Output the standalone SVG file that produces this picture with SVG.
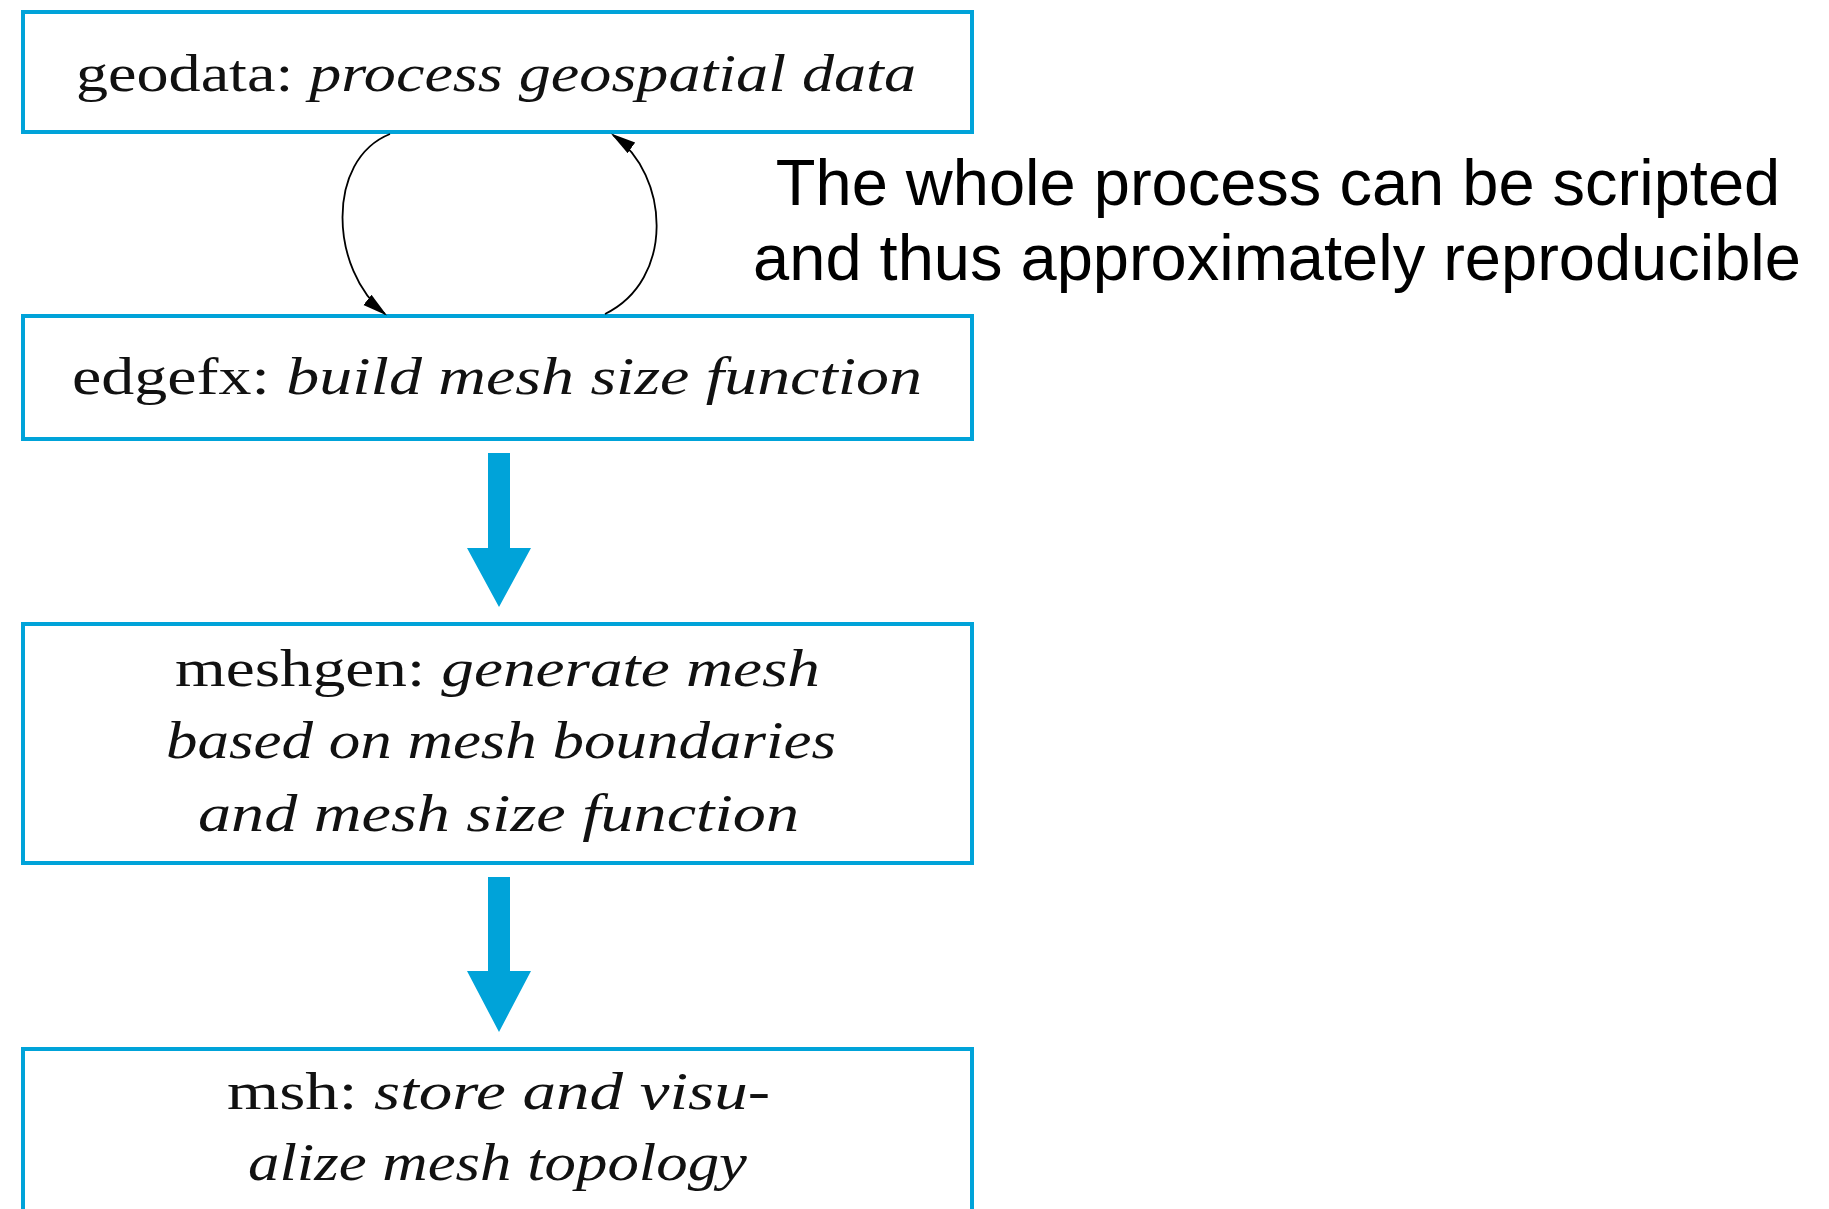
<svg xmlns="http://www.w3.org/2000/svg" width="1829" height="1209" viewBox="0 0 1829 1209">
<style>
.box{fill:#fff;stroke:#00a3d9;stroke-width:4}
.t{font-family:"Liberation Serif","DejaVu Serif",serif;font-size:52px;fill:#111}
.i{font-style:italic}
.note{font-family:"Liberation Sans",Arial,sans-serif;font-size:65px;fill:#000;text-anchor:middle}
.loop{fill:none;stroke:#000;stroke-width:1.8}
.blue{fill:#00a3d9}
</style>
<defs>
<marker id="ah" viewBox="0 0 10 10" refX="9" refY="5" markerWidth="25" markerHeight="25" markerUnits="userSpaceOnUse" orient="auto"><path d="M0,2.4 L10,5 L0,7.6 Z" fill="#000"/></marker>
</defs>
<rect width="1829" height="1209" fill="#fff"/>
<g id="geodata">
<rect class="box" x="23" y="12" width="949" height="120"/>
<text class="t" x="76" y="91" textLength="840" lengthAdjust="spacingAndGlyphs">geodata:  <tspan class="i">process geospatial data</tspan></text>
</g>
<g id="edgefx">
<rect class="box" x="23" y="316" width="949" height="123"/>
<text class="t" x="72" y="394" textLength="850" lengthAdjust="spacingAndGlyphs">edgefx:  <tspan class="i">build mesh size function</tspan></text>
</g>
<g id="meshgen">
<rect class="box" x="23" y="624" width="949" height="239"/>
<text class="t" x="175" y="686" textLength="645" lengthAdjust="spacingAndGlyphs">meshgen:  <tspan class="i">generate mesh</tspan></text>
<text class="t i" x="166" y="758" textLength="670" lengthAdjust="spacingAndGlyphs">based on mesh boundaries</text>
<text class="t i" x="198" y="831" textLength="601" lengthAdjust="spacingAndGlyphs">and mesh size function</text>
</g>
<g id="msh">
<rect class="box" x="23" y="1049" width="949" height="200"/>
<text class="t" x="227" y="1109" textLength="543" lengthAdjust="spacingAndGlyphs">msh:  <tspan class="i">store and visu-</tspan></text>
<text class="t i" x="248" y="1180" textLength="499" lengthAdjust="spacingAndGlyphs">alize mesh topology</text>
</g>
<g id="connectors">
<path class="loop" d="M390,134 C325,160 330,270 385,314" marker-end="url(#ah)"/>
<path class="loop" d="M605,314 C675,280 670,175 613,135" marker-end="url(#ah)"/>
<path class="blue" d="M488,453 H510 V548 H531 L499,607 L467,548 H488 Z"/>
<path class="blue" d="M488,877 H510 V971 H531 L499,1032 L467,971 H488 Z"/>
</g>
<g id="note">
<text class="note" x="1278" y="205">The whole process can be scripted</text>
<text class="note" x="1277" y="280">and thus approximately reproducible</text>
</g>
</svg>
